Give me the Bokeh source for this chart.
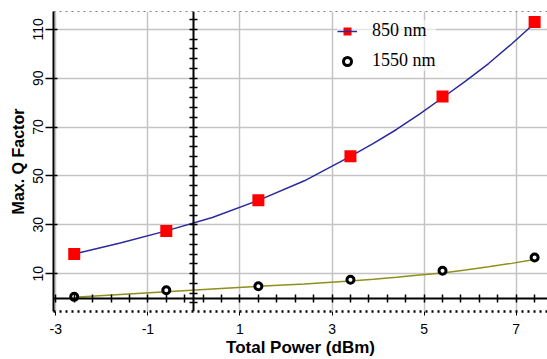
from bokeh.plotting import figure
from bokeh.models import (LinearAxis, FixedTicker, Range1d, Legend, LegendItem, Span,
                          CustomJSTickFormatter)
from bokeh.embed import file_html
from bokeh.resources import INLINE
import numpy as np

# ---- data ----
power_dbm = [-2.6, -0.6, 1.4, 3.4, 5.4, 7.4]
q_850 = [18, 27.5, 40, 58, 82.5, 113]
q_1550 = [0.5, 3.2, 4.8, 7.5, 11.2, 16.6]

fit_power = [-2.6, -1.6, -0.6, 0.4, 1.4, 2.4, 3.4, 3.9, 4.4, 4.9, 5.4, 5.9, 6.4, 6.9, 7.4]
fit_850 = [18, 22.5, 27.5, 33, 40, 48, 58, 63.3, 69, 75.3, 82, 88.8, 96, 104, 112.5]
fit_1550 = [0.3, 1.5, 2.6, 3.7, 4.8, 5.8, 7.0, 7.7, 8.5, 9.4, 10.3, 11.5, 12.8, 14.2, 15.8]

x_ticks = [-3, -1, 1, 3, 5, 7]
y_ticks = [10, 30, 50, 70, 90, 110]
labels = ["850 nm", "1550 nm"]

SANS = "Liberation Sans"
SERIF = "Liberation Serif"

plain = CustomJSTickFormatter(code="return tick.toString();")

p = figure(width=547, height=359, output_backend="svg", toolbar_location=None,
           x_range=Range1d(-3.05, 7.68), y_range=Range1d(-5.5, 117.3),
           min_border_left=53, min_border_right=0, min_border_top=11, min_border_bottom=47,
           x_axis_label="Total Power (dBm)", y_axis_label="Max. Q Factor")
p.outline_line_color = None
p.background_fill_color = "white"

# axes
xa = p.xaxis[0]
xa.ticker = FixedTicker(ticks=x_ticks)
xa.formatter = plain
xa.axis_line_dash = "dotted"
xa.axis_line_width = 2.5
xa.axis_line_color = "black"
xa.major_tick_out = 4
xa.major_tick_in = 0
xa.minor_tick_line_color = None
xa.major_label_standoff = 8
xa.major_label_text_font = SANS
xa.major_label_text_font_size = "14px"
xa.major_label_text_color = "black"
xa.axis_label_text_font = SANS
xa.axis_label_text_font_style = "bold"
xa.axis_label_text_font_size = "17px"
xa.axis_label_standoff = 1
xa.axis_label_text_color = "black"

ya = p.yaxis[0]
ya.ticker = FixedTicker(ticks=y_ticks)
ya.formatter = plain
ya.axis_line_width = 2
ya.axis_line_color = "black"
ya.major_tick_out = 8
ya.major_tick_in = 4
ya.major_tick_line_width = 1.5
ya.minor_tick_line_color = None
ya.major_label_orientation = "vertical"
ya.major_label_standoff = 2
ya.major_label_text_font = SANS
ya.major_label_text_font_size = "14px"
ya.major_label_text_color = "black"
ya.axis_label_text_font = SANS
ya.axis_label_text_font_style = "bold"
ya.axis_label_text_font_size = "16px"
ya.axis_label_standoff = 4
ya.axis_label_text_color = "black"

p.xgrid.ticker = FixedTicker(ticks=x_ticks)
p.ygrid.ticker = FixedTicker(ticks=y_ticks)
p.grid.grid_line_color = "#c4c4c4"
p.grid.grid_line_width = 1.5

# top dotted border
p.add_layout(Span(location=p.y_range.end, dimension="width", line_color="black",
                  line_dash="dotted", line_width=1))

# crosshair axes at x=0 and y=0
vx = LinearAxis(fixed_location=0, ticker=FixedTicker(ticks=list(np.arange(-2, 118, 4))),
                axis_line_width=2, axis_line_color="black",
                major_tick_in=4, major_tick_out=4, major_tick_line_width=1.5,
                minor_tick_line_color=None, major_label_text_color=None)
p.add_layout(vx, "left")
hx = LinearAxis(fixed_location=0, ticker=FixedTicker(ticks=list(np.round(np.arange(-3, 8, 0.4), 2))),
                axis_line_width=2, axis_line_color="black",
                major_tick_in=4, major_tick_out=4, major_tick_line_width=1.5,
                minor_tick_line_color=None, major_label_text_color=None)
p.add_layout(hx, "below")

# series
l850 = p.line(fit_power, fit_850, line_color="#2a2a9c", line_width=1.5)
l1550 = p.line(fit_power, fit_1550, line_color="#8f8f1c", line_width=1.5)
s850 = p.scatter(power_dbm, q_850, marker="square", size=12, fill_color="#ff0000",
                 line_color="#ff0000", line_width=0)
s1550 = p.scatter(power_dbm, q_1550, marker="circle", size=7, fill_color="white",
                  line_color="black", line_width=3)

legend = Legend(items=[LegendItem(label=labels[0], renderers=[s850, l850]),
                       LegendItem(label=labels[1], renderers=[s1550])],
                location=(284, 240), border_line_color=None,
                background_fill_color="white", background_fill_alpha=0.6,
                glyph_width=20, glyph_height=20, label_height=20, label_standoff=15,
                spacing=9, padding=0, margin=0,
                label_text_font=SERIF, label_text_font_size="18px",
                label_text_color="black")
p.add_layout(legend)

open("out.html", "w").write(file_html(p, INLINE))
